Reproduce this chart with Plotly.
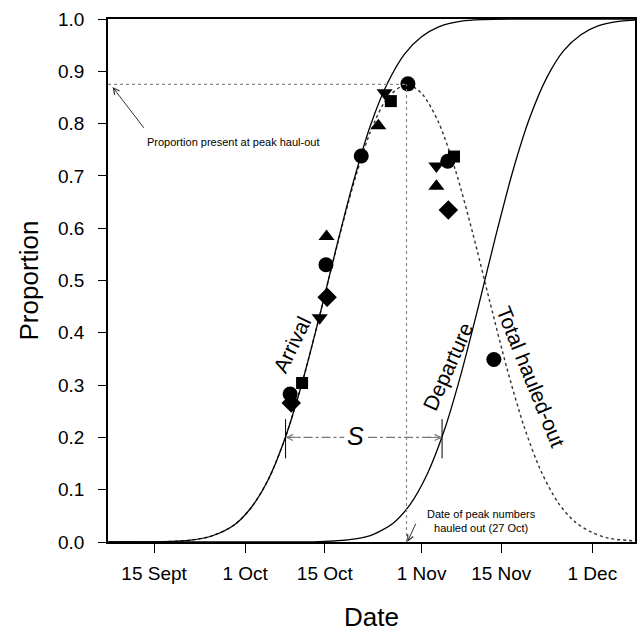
import plotly.graph_objects as go

# x positions are days after 1 September
tick_days = [14, 30, 44, 61, 75, 91]
tick_labels = ["15 Sept", "1 Oct", "15 Oct", "1 Nov", "15 Nov", "1 Dec"]
y_ticks = [0.0, 0.1, 0.2, 0.3, 0.4, 0.5, 0.6, 0.7, 0.8, 0.9, 1.0]

# curves
arrival_days = [6, 14, 20, 24, 28, 31, 34, 37, 40, 43, 46, 49, 52, 55, 58, 61, 64, 68, 72, 80, 98.5]
arrival_prop = [0.000, 0.0003, 0.003, 0.011, 0.032, 0.065, 0.118, 0.198, 0.304, 0.429, 0.562,
                0.688, 0.796, 0.877, 0.933, 0.966, 0.985, 0.996, 0.999, 1.0, 1.0]

departure_days = [6, 34, 42, 48, 52, 56, 59, 62, 65, 68, 71, 74, 77, 80, 83, 86, 89, 92, 96, 98.5]
departure_prop = [0.0, 0.0, 0.0004, 0.004, 0.012, 0.036, 0.072, 0.130, 0.214, 0.324, 0.451,
                  0.584, 0.708, 0.811, 0.888, 0.940, 0.970, 0.987, 0.996, 0.998]

total_days = [6, 14, 20, 24, 28, 31, 34, 37, 40, 43, 46, 49, 52, 55, 58.35, 61, 64, 67, 70,
              73, 76, 79, 82, 85, 88, 91, 94, 98.5]
total_prop = [0.0, 0.0003, 0.003, 0.011, 0.032, 0.065, 0.118, 0.198, 0.304, 0.429, 0.560, 0.683,
              0.784, 0.849, 0.875, 0.858, 0.802, 0.709, 0.590, 0.459, 0.332, 0.221, 0.135, 0.075,
              0.038, 0.018, 0.007, 0.002]

# observed proportions (by marker symbol)
circle_days = [37.9, 44.2, 50.4, 58.6, 65.6, 73.7]
circle_prop = [0.283, 0.530, 0.738, 0.876, 0.728, 0.349]
square_days = [40.0, 55.6, 66.7]
square_prop = [0.304, 0.843, 0.737]
tri_up_days = [44.3, 53.4, 63.6]
tri_up_prop = [0.584, 0.796, 0.680]
tri_down_days = [43.1, 54.5, 63.6]
tri_down_prop = [0.429, 0.859, 0.719]
diamond_days = [38.1, 44.4, 65.7]
diamond_prop = [0.266, 0.468, 0.635]

# key reference values
peak_day = 58.35
peak_prop = 0.875
s_start_day = 37.1   # arrival reaches 0.2
s_end_day = 64.6     # departure reaches 0.2
s_level = 0.2

x_range = [5.9, 98.5]
FONT = "Liberation Sans, Arial, Helvetica, sans-serif"

fig = go.Figure()

fig.add_trace(go.Scatter(x=total_days, y=total_prop, mode="lines",
                         line=dict(color="#333", width=1.4, dash="dot", shape="spline", smoothing=0.8),
                         hoverinfo="skip"))
fig.add_trace(go.Scatter(x=arrival_days, y=arrival_prop, mode="lines",
                         line=dict(color="black", width=1.3, shape="spline", smoothing=0.8),
                         hoverinfo="skip"))
fig.add_trace(go.Scatter(x=departure_days, y=departure_prop, mode="lines",
                         line=dict(color="black", width=1.3, shape="spline", smoothing=0.8),
                         hoverinfo="skip"))

for xs, ys, sym, sz in [
    (circle_days, circle_prop, "circle", 15),
    (square_days, square_prop, "square", 12),
    (tri_up_days, tri_up_prop, "triangle-up", 14),
    (tri_down_days, tri_down_prop, "triangle-down", 14),
    (diamond_days, diamond_prop, "diamond", 15),
]:
    fig.add_trace(go.Scatter(x=xs, y=ys, mode="markers",
                             marker=dict(symbol=sym, size=sz, color="black", line=dict(width=0))))

shapes = [
    # peak guide lines
    dict(type="line", xref="x", yref="y", x0=x_range[0], x1=peak_day, y0=peak_prop, y1=peak_prop,
         line=dict(color="#888", width=1.2, dash="dot")),
    dict(type="line", xref="x", yref="y", x0=peak_day, x1=peak_day, y0=0, y1=peak_prop,
         line=dict(color="#888", width=1.2, dash="dot")),
    # S interval
    dict(type="line", xref="x", yref="y", x0=s_start_day, x1=47.4, y0=s_level, y1=s_level,
         line=dict(color="#777", width=1.1, dash="dashdot")),
    dict(type="line", xref="x", yref="y", x0=51.6, x1=s_end_day, y0=s_level, y1=s_level,
         line=dict(color="#777", width=1.1, dash="dashdot")),
    dict(type="line", xref="x", yref="y", x0=s_start_day, x1=s_start_day, y0=s_level - 0.04, y1=s_level + 0.035,
         line=dict(color="black", width=1)),
    dict(type="line", xref="x", yref="y", x0=s_end_day, x1=s_end_day, y0=s_level - 0.04, y1=s_level + 0.035,
         line=dict(color="black", width=1)),
]

annotations = [
    dict(x=27.9, y=0.764, xref="x", yref="y", text="Proportion present at peak haul-out",
         showarrow=False, font=dict(size=11, family=FONT, color="black")),
    dict(x=6.7, y=0.870, ax=12.4, ay=0.789, xref="x", yref="y", axref="x", ayref="y", text="",
         showarrow=True, arrowhead=5, arrowsize=1.2, arrowwidth=1, arrowcolor="#333"),
    dict(x=71.6, y=0.040, xref="x", yref="y", text="Date of peak numbers<br>hauled out (27 Oct)",
         showarrow=False, font=dict(size=11, family=FONT, color="black")),
    dict(x=peak_day + 0.15, y=0.0, ax=60.1, ay=0.038, xref="x", yref="y", axref="x", ayref="y", text="",
         showarrow=True, arrowhead=5, arrowsize=1.2, arrowwidth=1, arrowcolor="#333"),
    dict(x=38.2, y=0.378, xref="x", yref="y", text="Arrival", textangle=-64,
         showarrow=False, font=dict(size=21, family=FONT, color="black")),
    dict(x=65.6, y=0.336, xref="x", yref="y", text="Departure", textangle=-66,
         showarrow=False, font=dict(size=21, family=FONT, color="black")),
    dict(x=80.3, y=0.315, xref="x", yref="y", text="Total hauled-out", textangle=68,
         showarrow=False, font=dict(size=21, family=FONT, color="black")),
    dict(x=49.4, y=0.203, xref="x", yref="y", text="<i>S</i>",
         showarrow=False, font=dict(size=25, family=FONT, color="black")),
    dict(x=s_start_day, y=s_level, ax=16, ay=0, xref="x", yref="y", text="",
         showarrow=True, arrowhead=5, arrowsize=1.2, arrowwidth=1, arrowcolor="#777"),
    dict(x=s_end_day, y=s_level, ax=-16, ay=0, xref="x", yref="y", text="",
         showarrow=True, arrowhead=5, arrowsize=1.2, arrowwidth=1, arrowcolor="#777"),
]

fig.update_layout(
    width=644, height=634, autosize=False,
    margin=dict(l=108, r=7, t=19, b=91),
    paper_bgcolor="white", plot_bgcolor="white",
    showlegend=False,
    font=dict(family=FONT, color="black"),
    shapes=shapes, annotations=annotations,
)

fig.update_xaxes(
    range=x_range, tickmode="array", tickvals=tick_days, ticktext=tick_labels,
    ticks="outside", ticklen=9, tickwidth=1.2, tickcolor="black",
    showline=True, linecolor="black", linewidth=1.5, mirror=True,
    showgrid=False, zeroline=False,
    tickfont=dict(size=19, family=FONT, color="black"),
    ticklabelstandoff=4,
    title=dict(text="Date", font=dict(size=26, family=FONT, color="black"), standoff=25),
)
fig.update_yaxes(
    range=[0, 1], tickmode="array", tickvals=y_ticks, tickformat=".1f",
    ticks="outside", ticklen=8, tickwidth=1.2, tickcolor="black",
    showline=True, linecolor="black", linewidth=1.5, mirror=True,
    showgrid=False, zeroline=False,
    tickfont=dict(size=19, family=FONT, color="black"),
    ticklabelstandoff=10,
    title=dict(text="Proportion", font=dict(size=26, family=FONT, color="black"), standoff=12),
)

fig.write_html("out.html")
